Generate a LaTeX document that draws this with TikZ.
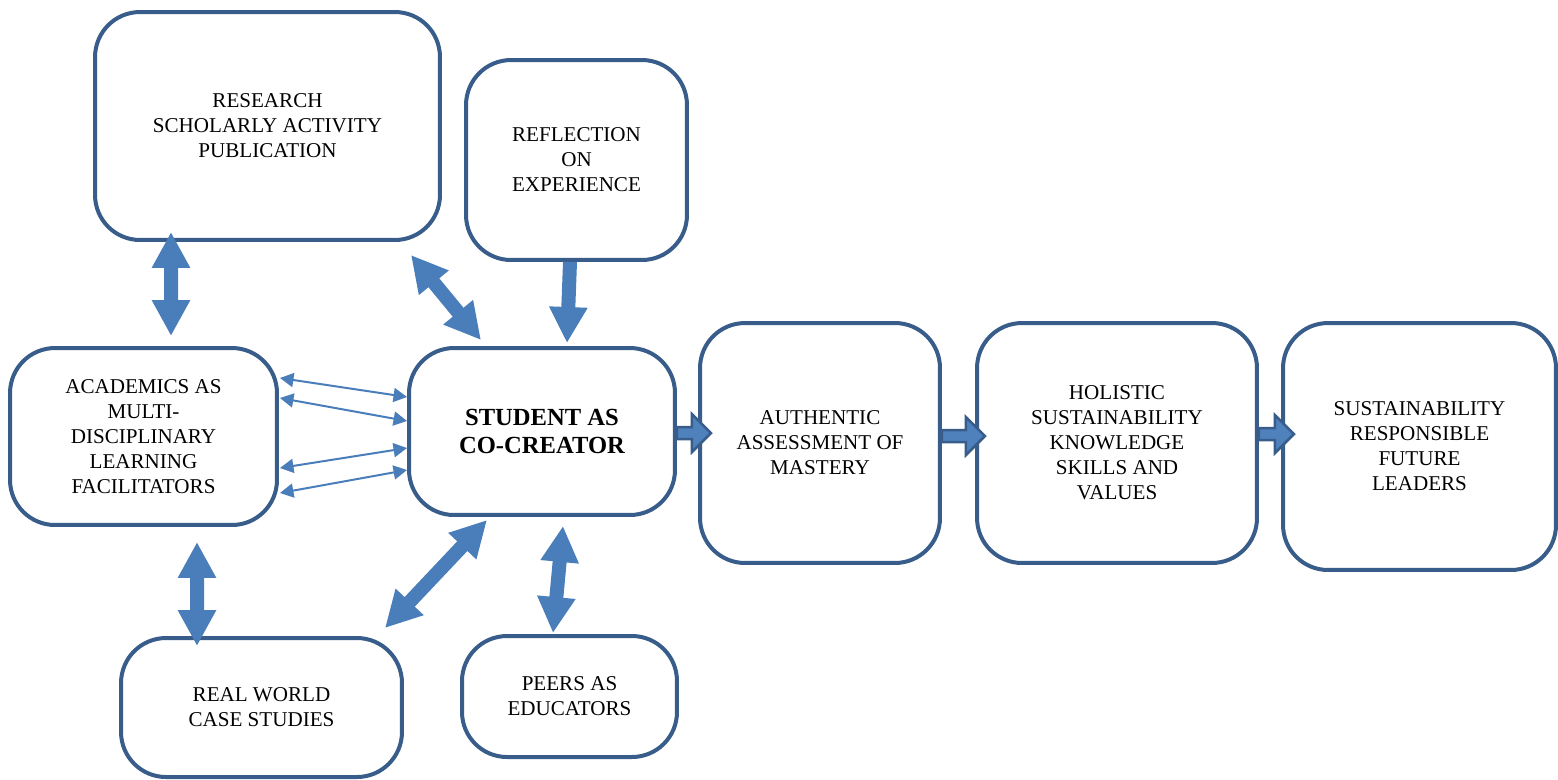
\documentclass[tikz,border=0pt]{standalone}
\usepackage{fontspec}
\setmainfont{Liberation Serif}
\usetikzlibrary{calc,arrows.meta}
\definecolor{boxblue}{HTML}{385D8A}
\definecolor{arrblue}{HTML}{4A7EBB}
\definecolor{blkfill}{HTML}{4F81BD}

\begin{document}
\begin{tikzpicture}[
	x=0.02cm, y=-0.02cm,
	box/.style={
		draw=boxblue,
		line width=0.08cm,
		rounded corners=0.9cm,
		align=center,
		inner sep=2pt,
		font=\fontsize{12}{14.2}\selectfont
	},
	dbl/.style={
		draw=arrblue,
		line width=0.28cm,
		{Triangle[length=0.72cm,width=0.72cm]}-{Triangle[length=0.72cm,width=0.72cm]}
	},
	onearr/.style={
		draw=arrblue,
		line width=0.28cm,
		-{Triangle[length=0.72cm,width=0.72cm]}
	},
	thinarr/.style={
		draw=arrblue,
		line width=0.04cm,
		{Triangle[length=0.27cm,width=0.28cm]}-{Triangle[length=0.27cm,width=0.28cm]}
	},
	blk/.style={
		draw=boxblue,
		fill=blkfill,
		line width=0.05cm,
		line join=miter
	}
	]
	\useasboundingbox (0,0) rectangle (1558,779);
	
	\node[box,minimum width=6.9cm,minimum height=4.56cm] (res) at (267.5,126)
	{RESEARCH\\SCHOLARLY ACTIVITY\\PUBLICATION};
	\node[box,minimum width=4.42cm,minimum height=4cm] (refl) at (576.5,160)
	{REFLECTION\\ON\\EXPERIENCE};
	\node[box,minimum width=5.34cm,minimum height=3.54cm] (acad) at (143.5,436.5)
	{ACADEMICS AS\\MULTI-\\DISCIPLINARY\\LEARNING\\FACILITATORS};
	\node[box,minimum width=5.32cm,minimum height=3.34cm,font=\fontsize{14}{16}\selectfont\bfseries] (stud) at (542,431.5)
	{STUDENT AS\\CO-CREATOR};
	\node[box,minimum width=4.8cm,minimum height=4.8cm] (auth) at (820,443)
	{AUTHENTIC\\ASSESSMENT OF\\MASTERY};
	\node[box,minimum width=5.6cm,minimum height=4.8cm] (hol) at (1117,443)
	{HOLISTIC\\SUSTAINABILITY\\KNOWLEDGE\\SKILLS AND\\VALUES};
	\node[box,minimum width=5.46cm,minimum height=4.94cm] (sus) at (1419.5,446.5)
	{SUSTAINABILITY\\RESPONSIBLE\\FUTURE\\LEADERS};
	\node[box,minimum width=5.62cm,minimum height=2.78cm] (real) at (261.5,707.5)
	{REAL WORLD\\CASE STUDIES};
	\node[box,minimum width=4.3cm,minimum height=2.42cm] (peers) at (569.5,696.5)
	{PEERS AS\\EDUCATORS};
	
	% thick arrows round the student
	\draw[dbl] ($(res.south)+(-96.5,-10)$) -- ($(acad.north)+(27.5,-10)$);
	\draw[dbl] ($(res.south east)+(-31,13)$) -- ($(stud.north)+(-61,-6)$);
	\draw[onearr] ($(refl.south)+(-6.5,0)$) -- ($(stud.north)+(25,-3)$);
	\draw[dbl] ($(acad.south)+(53.5,15)$) -- ($(real.north)+(-64.5,10)$);
	\draw[dbl] ($(stud.south)+(-55,3)$) -- ($(real.north east)+(-19,-8)$);
	\draw[dbl] ($(stud.south)+(21,9)$) -- ($(peers.north)+(-16.5,-1)$);
	
	% thin arrows
	\draw[thinarr] ($(acad.east)+(1,-58.5)$) -- ($(stud.west)+(0,-34.5)$);
	\draw[thinarr] ($(acad.east)+(1,-38.5)$) -- ($(stud.west)+(0,-10.5)$);
	\draw[thinarr] ($(acad.east)+(1,31.5)$) -- ($(stud.west)+(0,16.5)$);
	\draw[thinarr] ($(acad.east)+(1,56.5)$) -- ($(stud.west)+(0,38.5)$);
	
	% block arrows
	\draw[blk] ($(stud.east)+(0,-4.5)$) -- ++(15,0) -- ++(0,-13) -- ++(19,19)
	-- ++(-19,19) -- ++(0,-13) -- ++(-15,0) -- cycle;
	\draw[blk] ($(auth.east)+(0,-13)$) -- ++(24,0) -- ++(0,-13) -- ++(19,19)
	-- ++(-19,19) -- ++(0,-13) -- ++(-24,0) -- cycle;
	\draw[blk] ($(hol.east)+(0,-15)$) -- ++(16,0) -- ++(0,-13) -- ++(19,19)
	-- ++(-19,19) -- ++(0,-13) -- ++(-16,0) -- cycle;
\end{tikzpicture}
\end{document}
